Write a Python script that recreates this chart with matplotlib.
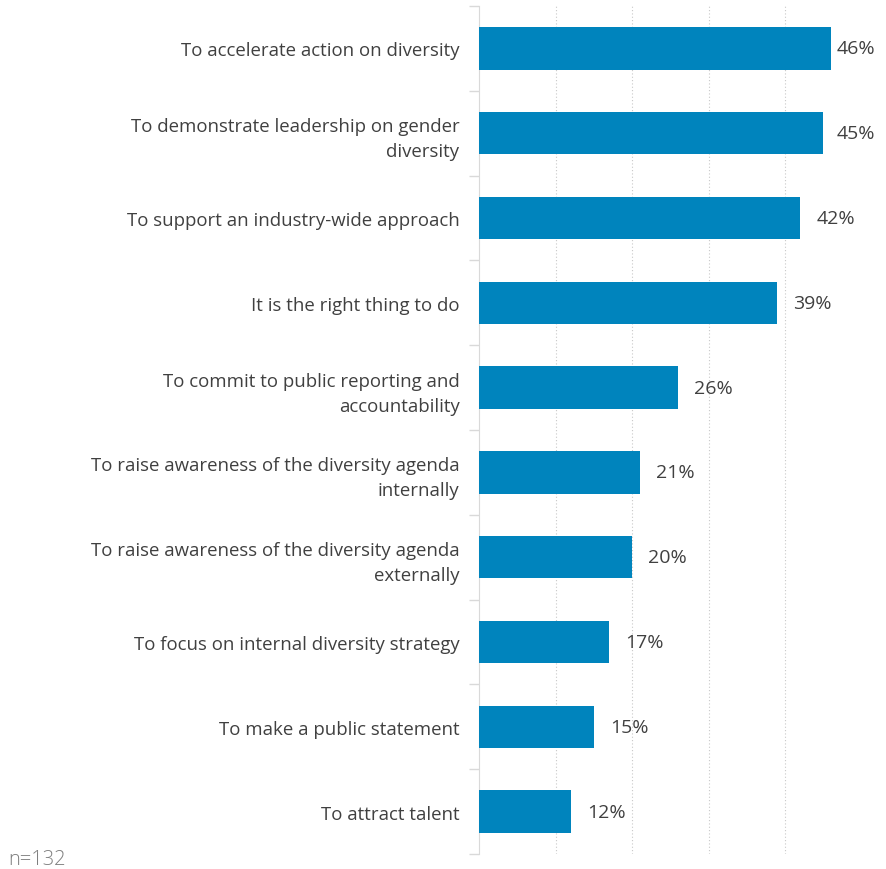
import matplotlib.pyplot as plt
import numpy as np

plt.rcParams['font.family'] = ['Open Sans', 'DejaVu Sans']

labels = [
    "To accelerate action on diversity",
    "To demonstrate leadership on gender\ndiversity",
    "To support an industry-wide approach",
    "It is the right thing to do",
    "To commit to public reporting and\naccountability",
    "To raise awareness of the diversity agenda\ninternally",
    "To raise awareness of the diversity agenda\nexternally",
    "To focus on internal diversity strategy",
    "To make a public statement",
    "To attract talent",
]
values = [46, 45, 42, 39, 26, 21, 20, 17, 15, 12]

xmax = 53.2
fig = plt.figure(figsize=(8.86, 8.70), dpi=100)
ax = fig.add_axes([479 / 886, 15 / 870, 1 - 479 / 886, 848 / 870])

y = np.arange(len(values))
ax.barh(y, values, height=0.5, color='#0084BD', zorder=3)
ax.set_ylim(len(values) - 0.5, -0.5)
ax.set_xlim(0, xmax)

for yi, v in zip(y, values):
    ax.text(min(v + 2.1, xmax - 6.4), yi, f"{v}%", va='center', ha='left',
            fontsize=14, color='#404040')

ax.set_yticks(y)
ax.set_yticklabels(labels, fontsize=13.4, color='#404040', linespacing=1.5)
ax.tick_params(axis='y', which='major', length=0, pad=14)
ax.set_yticks(np.arange(-0.5, len(values)), minor=True)
ax.tick_params(axis='y', which='minor', length=7, color='#d9d9d9', width=1)

ax.set_xticks([10, 20, 30, 40])
ax.tick_params(axis='x', length=0, labelbottom=False)
ax.xaxis.grid(True, linestyle=(0, (1, 2)), color='#c8c8c8', linewidth=0.8, zorder=0)

for s in ['top', 'right', 'bottom']:
    ax.spines[s].set_visible(False)
ax.spines['left'].set_color('#d9d9d9')

fig.text(8 / 886, 1 - 860 / 870, "n=132", fontsize=14.5, color='#7f7f7f',
         va='center', ha='left', fontweight='light')

fig.savefig("out.png", dpi=100)
